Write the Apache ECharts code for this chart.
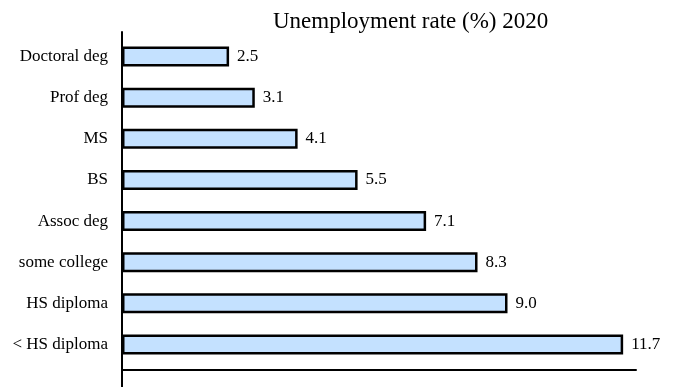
<!DOCTYPE html>
<html>
<head>
<meta charset="utf-8">
<script src="https://cdn.jsdelivr.net/npm/echarts@6/dist/echarts.min.js"></script>
<style>
  html, body { margin: 0; padding: 0; background: #fff; }
  #main { width: 678px; height: 387px; }
</style>
</head>
<body>
<div id="main"></div>
<script>
// data
var categories = ['Doctoral deg', 'Prof deg', 'MS', 'BS', 'Assoc deg', 'some college', 'HS diploma', '< HS diploma'];
var rates = [2.5, 3.1, 4.1, 5.5, 7.1, 8.3, 9.0, 11.7];

var chart = echarts.init(document.getElementById('main'));
var serif = '"Liberation Serif", "Times New Roman", serif';

var option = {
    backgroundColor: '#fff',
    animation: false,
    title: {
        text: 'Unemployment rate (%) 2020',
        left: 268,
        top: 5,
        textStyle: { fontFamily: serif, fontSize: 23, fontWeight: 'normal', color: '#000' }
    },
    grid: [
        { left: 122, right: 42, top: 36, bottom: 22 },
        { left: 122, right: 42, top: 32, bottom: 0 }   // only for the long vertical axis line
    ],
    xAxis: [{
        gridIndex: 0,
        type: 'value',
        min: 0,
        max: 12,
        offset: 5,
        axisLine: { show: true, lineStyle: { color: '#000', width: 2 } },
        axisTick: { show: false },
        axisLabel: { show: false },
        splitLine: { show: false }
    }, {
        gridIndex: 1,
        type: 'value',
        min: 0,
        max: 1,
        show: false
    }],
    yAxis: [{
        gridIndex: 0,
        type: 'category',
        inverse: true,
        data: categories,
        axisLine: { show: false },
        axisTick: { show: false },
        axisLabel: { margin: 14, color: '#000', fontFamily: serif, fontSize: 17 }
    }, {
        gridIndex: 1,
        type: 'value',
        min: 0,
        max: 1,
        axisLine: { show: true, onZero: false, lineStyle: { color: '#000', width: 2 } },
        axisTick: { show: false },
        axisLabel: { show: false },
        splitLine: { show: false }
    }],
    series: [{
        type: 'bar',
        xAxisIndex: 0,
        yAxisIndex: 0,
        data: rates,
        barWidth: 20,
        itemStyle: { color: '#c4e1ff', borderColor: '#000', borderWidth: 2.5 },
        label: {
            show: true,
            position: 'right',
            distance: 8,
            color: '#000',
            fontFamily: serif,
            fontSize: 17,
            formatter: function (p) { return p.value.toFixed(1); }
        }
    }]
};

chart.setOption(option);
</script>
</body>
</html>
